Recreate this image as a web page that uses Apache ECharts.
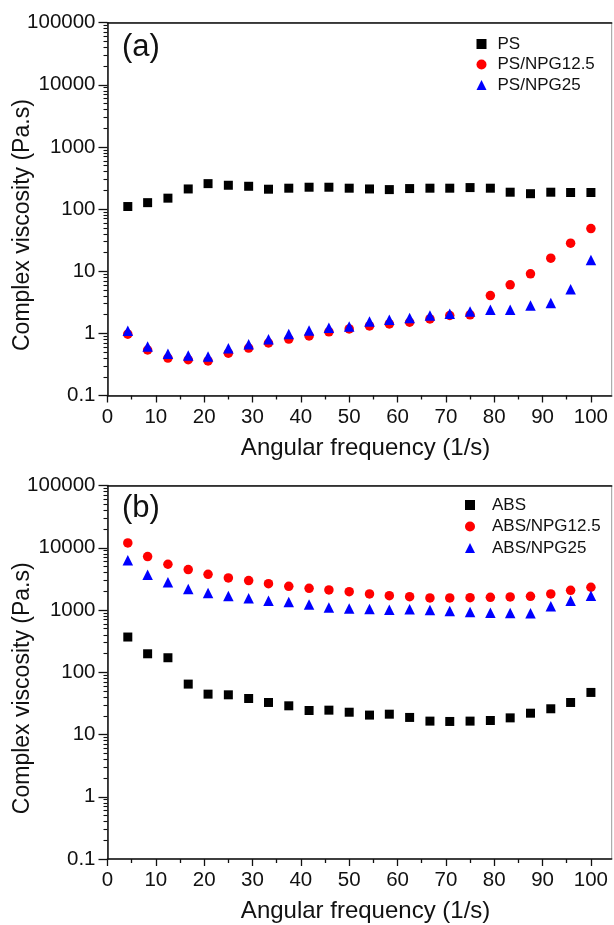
<!DOCTYPE html>
<html>
<head>
<meta charset="utf-8">
<script src="https://cdn.jsdelivr.net/npm/echarts@6/dist/echarts.min.js"></script>
<style>
  html, body { margin: 0; padding: 0; background: #fff; }
  #chart { width: 614px; height: 925px; }
</style>
</head>
<body>
<div id="chart"></div>
<script>
// Angular frequency sweep points (1/s)
const freq = [4.2, 8.3, 12.5, 16.7, 20.8, 25, 29.2, 33.3, 37.5, 41.7, 45.8, 50,
              54.2, 58.3, 62.5, 66.7, 70.8, 75, 79.2, 83.3, 87.5, 91.7, 95.8, 100];

// Panel (a): complex viscosity (Pa.s)
const ps = [110, 127, 150, 211, 257, 242, 233, 209, 217, 225, 225, 217,
            211, 206, 214, 217, 217, 222, 217, 187, 177, 187, 185, 185];
const psNpg125 = [0.97, 0.54, 0.40, 0.376, 0.36, 0.48, 0.58, 0.70, 0.81, 0.91, 1.06, 1.18,
                  1.32, 1.42, 1.51, 1.71, 1.94, 1.99, 4.06, 6.04, 9.08, 16.2, 28.3, 48.6];
const psNpg25 = [1.10, 0.615, 0.469, 0.44, 0.425, 0.578, 0.671, 0.807, 0.98, 1.11, 1.23, 1.29,
                 1.55, 1.65, 1.76, 1.94, 2.06, 2.25, 2.39, 2.39, 2.81, 3.07, 5.15, 15.2];

// Panel (b): complex viscosity (Pa.s)
const abs = [368, 198, 171, 64.5, 44.5, 43.4, 37.9, 32.7, 28.9, 24.3, 24.6, 22.8,
             20.5, 21.2, 18.8, 16.4, 16.2, 16.4, 16.8, 18.5, 22.0, 25.9, 32.7, 47.4];
const absNpg125 = [11970, 7210, 5430, 4460, 3750, 3270, 2970, 2650, 2400, 2230, 2100, 1970,
                   1810, 1700, 1640, 1560, 1560, 1580, 1600, 1620, 1660, 1810, 2070, 2320];
const absNpg25 = [6310, 3700, 2790, 2180, 1880, 1680, 1540, 1410, 1340, 1220, 1100, 1060,
                  1040, 1010, 1025, 1000, 964, 929, 906, 895, 884, 1150, 1410, 1700];

const seriesNamesA = ['PS', 'PS/NPG12.5', 'PS/NPG25'];
const seriesNamesB = ['ABS', 'ABS/NPG12.5', 'ABS/NPG25'];
const panelLabels = ['(a)', '(b)'];

// Axis ticks and labels
const xTicks = [0, 10, 20, 30, 40, 50, 60, 70, 80, 90, 100];
const xMinorTicks = [5, 15, 25, 35, 45, 55, 65, 75, 85, 95];
const yTicks = [0.1, 1, 10, 100, 1000, 10000, 100000];
const yTickLabels = ['0.1', '1', '10', '100', '1000', '10000', '100000'];
const yMinorTicks = [];
for (let d = 0; d < yTicks.length - 1; d++) {
  for (let m = 2; m <= 9; m++) yMinorTicks.push(Number((yTicks[d] * m).toPrecision(3)));
}

const FONT = "'Liberation Sans', Arial, sans-serif";
const INK = '#111';
const X_MAX = 104.3;

const grids = [
  { left: 107.5, top: 22.7, width: 504.2, height: 372.8 },
  { left: 107.5, top: 485.5, width: 504.2, height: 373.5 }
];

const xAxes = [];
const yAxes = [];
grids.forEach((g, gi) => {
  // main bottom axis
  xAxes.push({
    gridIndex: gi, type: 'value', min: 0, max: X_MAX, position: 'bottom',
    name: 'Angular frequency (1/s)', nameLocation: 'middle', nameGap: 40.5,
    nameMoveOverlap: false,
    nameTextStyle: { fontFamily: FONT, fontSize: 24, color: INK, padding: [0, 0, 0, 12] },
    axisLine: { show: true, onZero: false, lineStyle: { color: INK, width: 1.5 } },
    axisTick: { show: true, length: 7, customValues: xTicks, lineStyle: { color: INK, width: 1.3 } },
    axisLabel: { customValues: xTicks, margin: 11, fontFamily: FONT, fontSize: 20.5, color: INK },
    splitLine: { show: false }
  });
  // minor ticks
  xAxes.push({
    gridIndex: gi, type: 'value', min: 0, max: X_MAX, position: 'bottom',
    axisLine: { show: false },
    axisTick: { show: true, length: 4, customValues: xMinorTicks, lineStyle: { color: INK, width: 1.3 } },
    axisLabel: { show: false },
    splitLine: { show: false }
  });
  // top frame line
  xAxes.push({
    gridIndex: gi, type: 'value', min: 0, max: X_MAX, position: 'top',
    axisLine: { show: true, onZero: false, lineStyle: { color: INK, width: 1.5 } },
    axisTick: { show: false }, axisLabel: { show: false }, splitLine: { show: false }
  });
  // main log axis
  yAxes.push({
    gridIndex: gi, type: 'log', logBase: 10, min: 0.1, max: 100000, position: 'left',
    name: 'Complex viscosity (Pa.s)', nameLocation: 'middle', nameGap: 73,
    nameMoveOverlap: false,
    nameTextStyle: { fontFamily: FONT, fontSize: 23, color: INK, padding: [0, 32, 0, 0] },
    axisLine: { show: true, onZero: false, lineStyle: { color: INK, width: 1.5 } },
    axisTick: { show: true, length: 9, customValues: yTicks, lineStyle: { color: INK, width: 1.3 } },
    axisLabel: {
      customValues: yTicks, margin: 12, fontFamily: FONT, fontSize: 20.5, color: INK,
      formatter: v => {
        const idx = yTicks.findIndex(t => Math.abs(Math.log10(t) - Math.log10(v)) < 1e-6);
        return idx >= 0 ? yTickLabels[idx] : '';
      }
    },
    splitLine: { show: false }
  });
  // log minor ticks
  yAxes.push({
    gridIndex: gi, type: 'log', logBase: 10, min: 0.1, max: 100000, position: 'left',
    axisLine: { show: false },
    axisTick: { show: true, length: 4, customValues: yMinorTicks, lineStyle: { color: INK, width: 1.1 } },
    axisLabel: { show: false },
    splitLine: { show: false }
  });
});

function scatter(name, values, gi, symbol, size, color) {
  return {
    name, type: 'scatter', xAxisIndex: gi * 3, yAxisIndex: gi * 2,
    symbol, symbolSize: size,
    itemStyle: { color, opacity: 1 },
    data: freq.map((x, i) => [x, values[i]]),
    emphasis: { disabled: true },
    animation: false
  };
}

const series = [
  scatter(seriesNamesA[0], ps, 0, 'rect', 9, '#000000'),
  scatter(seriesNamesA[1], psNpg125, 0, 'circle', 9.5, '#ff0000'),
  scatter(seriesNamesA[2], psNpg25, 0, 'triangle', 10.5, '#0000ff'),
  scatter(seriesNamesB[0], abs, 1, 'rect', 9, '#000000'),
  scatter(seriesNamesB[1], absNpg125, 1, 'circle', 9.5, '#ff0000'),
  scatter(seriesNamesB[2], absNpg25, 1, 'triangle', 10.5, '#0000ff')
];

const legendCommon = {
  orient: 'vertical', padding: 0, itemWidth: 10, itemHeight: 10, itemGap: 3.5,
  selectedMode: false,
  textStyle: { fontFamily: FONT, fontSize: 17, color: INK, lineHeight: 17 }
};

const option = {
  backgroundColor: '#ffffff',
  animation: false,
  title: [
    { text: panelLabels[0], left: 122, top: 32, padding: 0,
      textStyle: { fontFamily: FONT, fontSize: 31, fontWeight: 'normal', color: INK } },
    { text: panelLabels[1], left: 122, top: 493, padding: 0,
      textStyle: { fontFamily: FONT, fontSize: 31, fontWeight: 'normal', color: INK } }
  ],
  legend: [
    Object.assign({}, legendCommon, {
      data: seriesNamesA, left: 476.5, top: 35.5,
      textStyle: Object.assign({}, legendCommon.textStyle, { padding: [0, 0, 0, 6] })
    }),
    Object.assign({}, legendCommon, {
      data: seriesNamesB, left: 465, top: 496.5, itemGap: 4.5,
      textStyle: Object.assign({}, legendCommon.textStyle, { padding: [0, 0, 0, 12] })
    })
  ],
  grid: grids.map(g => Object.assign({
    show: true, borderColor: '#9a9a9a', borderWidth: 1,
    containLabel: false, outerBoundsMode: 'none'
  }, g)),
  xAxis: xAxes,
  yAxis: yAxes,
  series
};

const chart = echarts.init(document.getElementById('chart'), null, { renderer: 'canvas' });
chart.setOption(option);
</script>
</body>
</html>
